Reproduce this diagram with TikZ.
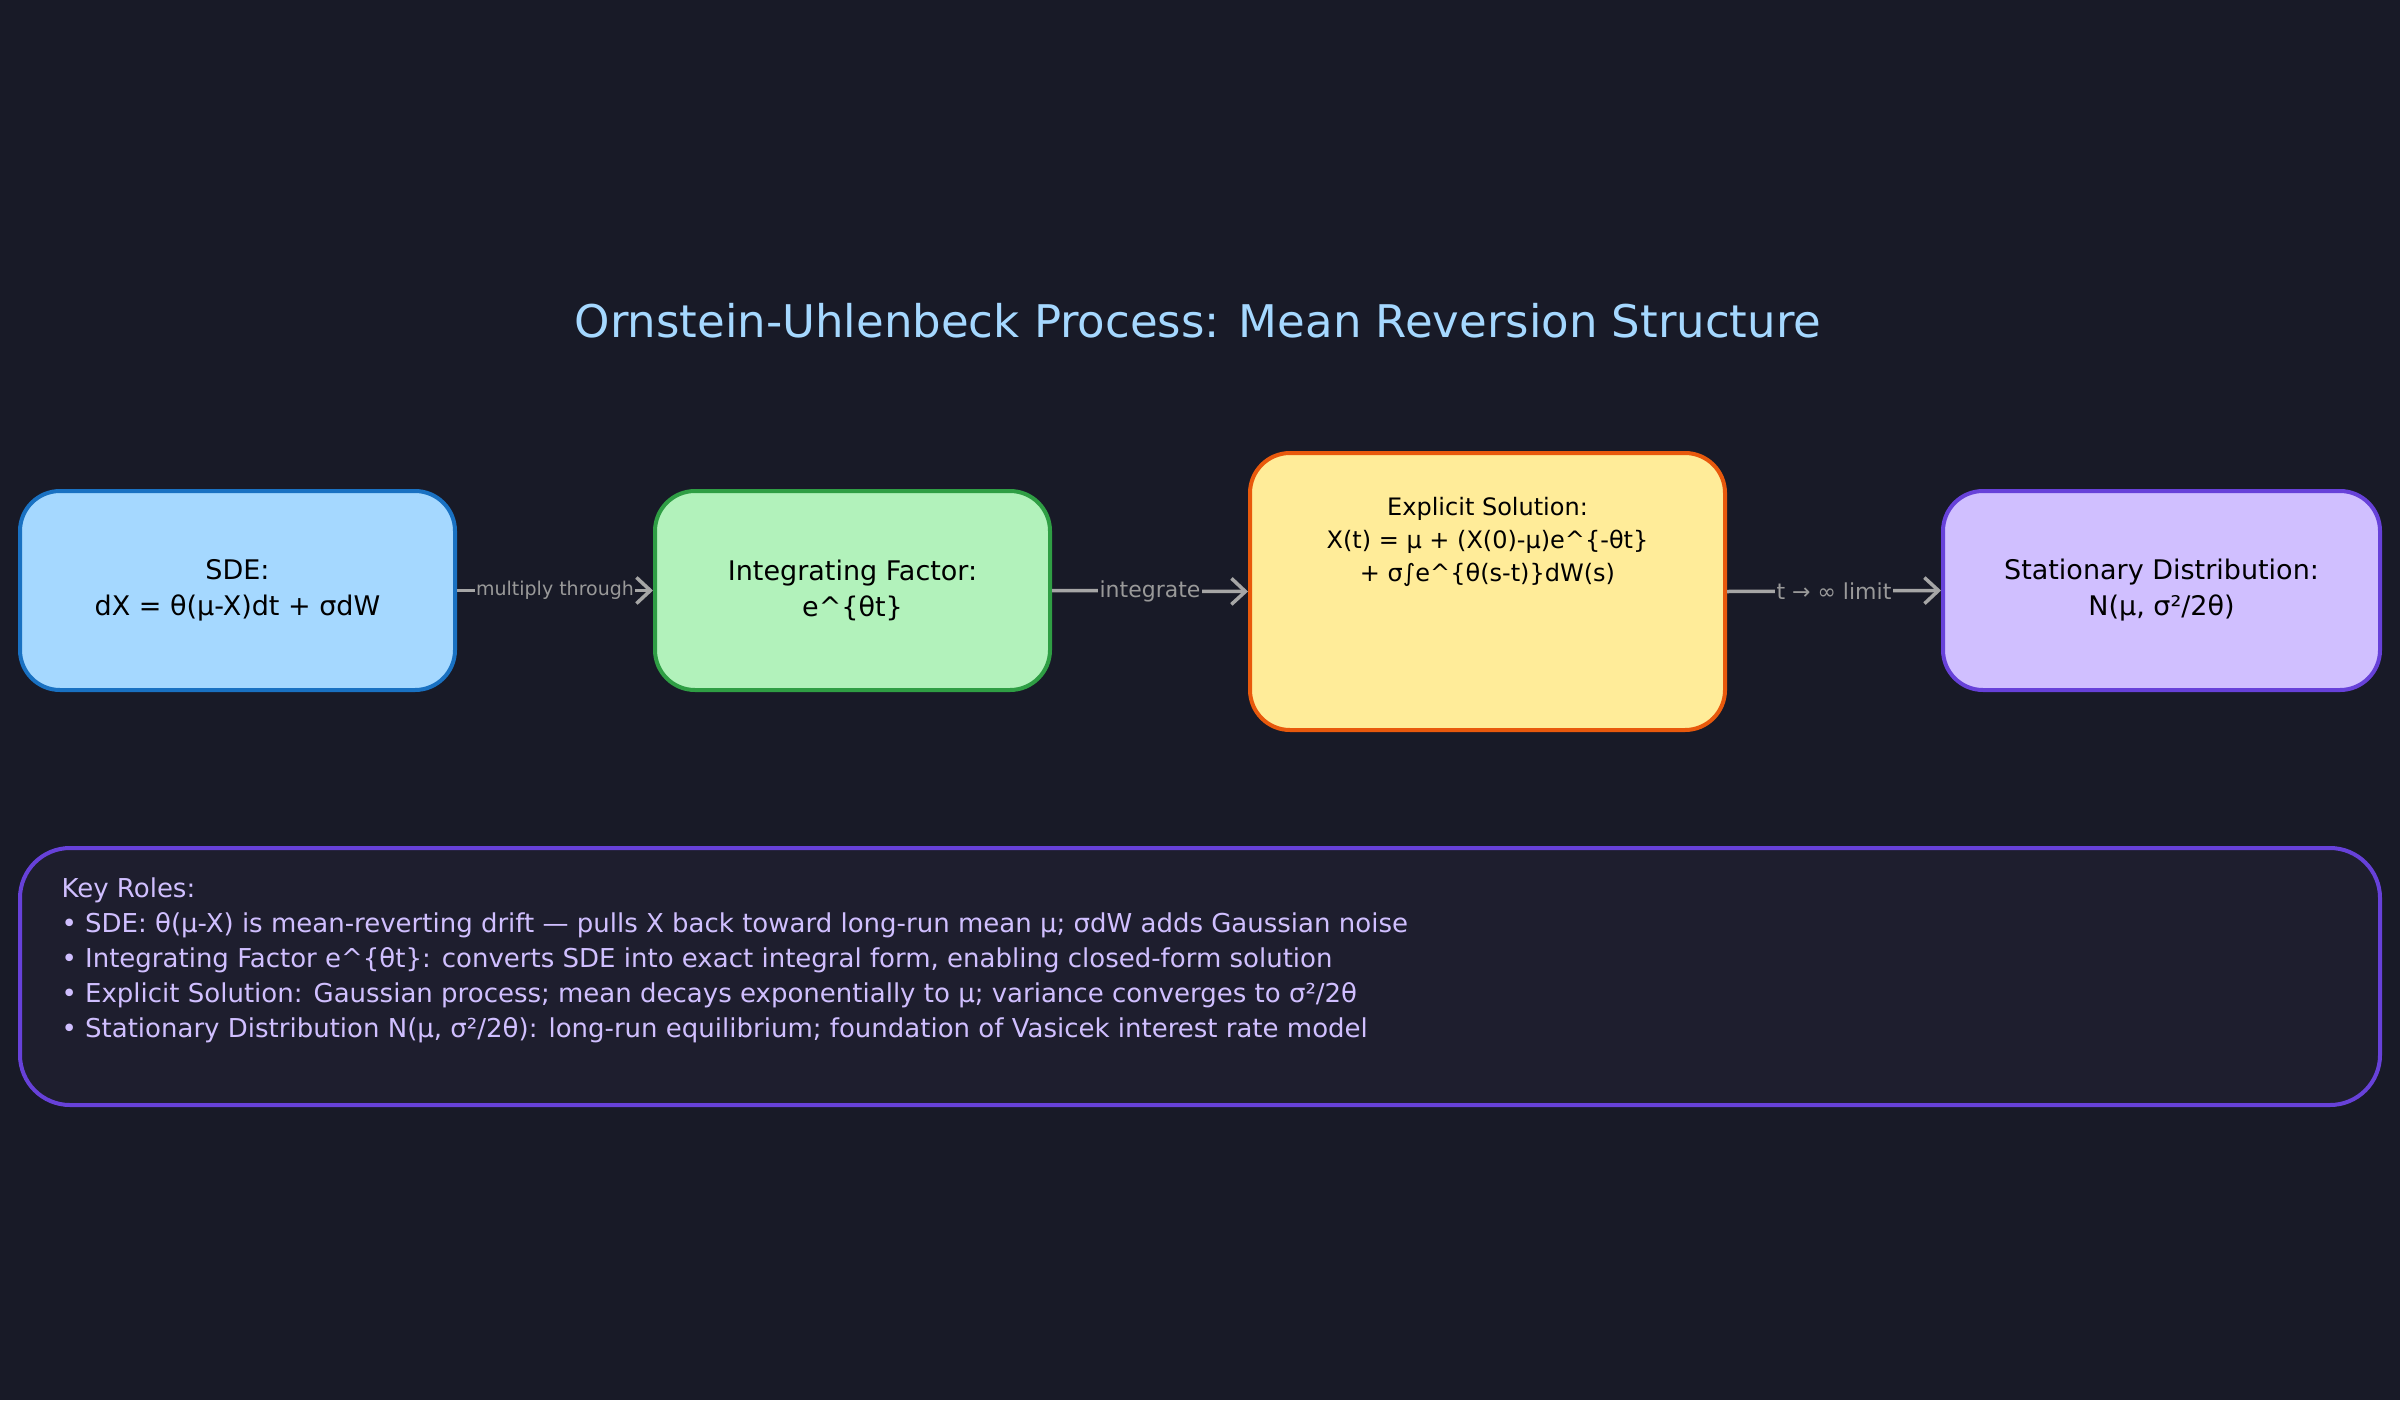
\documentclass[tikz,border=0pt]{standalone}
\usepackage{fontspec}
\setmainfont{DejaVu Sans}
\usetikzlibrary{arrows.meta}
\definecolor{bg}{HTML}{181A27}
\definecolor{panel}{HTML}{1E1E2E}
\begin{document}
\begin{tikzpicture}[x=1pt,y=-1pt,
  box/.style={draw, line width=4pt, rounded corners=40pt, align=center, text=black, font=\fontsize{27}{36}\selectfont, inner sep=0pt},
  conn/.style={draw=gray!70!white, line width=3.5pt, -{Straight Barb[length=14pt,width=26pt,line width=3.5pt]}},
  lab/.style={fill=bg, text=gray!80!white, font=\fontsize{22}{26}\selectfont, inner sep=2pt}]
\fill[bg] (0,0) rectangle (2400,1400);
\useasboundingbox (0,0) rectangle (2400,1400);
\node[text={rgb,255:red,165;green,216;blue,255}, font=\fontsize{45}{54}\selectfont] (title) at (1198,321) {Ornstein-Uhlenbeck Process: Mean Reversion Structure};
\node[box, draw={rgb,255:red,25;green,113;blue,194}, fill={rgb,255:red,165;green,216;blue,255}, minimum width=435pt, minimum height=199pt] (sde) at (237.5,590.5) {SDE:\\dX = θ(μ-X)dt + σdW};
\node[box, draw={rgb,255:red,47;green,158;blue,68}, fill={rgb,255:red,178;green,242;blue,187}, minimum width=395pt, minimum height=199pt] (if) at (852.5,590.5) {Integrating Factor:\\e\^{}\{θt\}};
\node[box, draw={rgb,255:red,232;green,89;blue,12}, fill={rgb,255:red,255;green,236;blue,153}, minimum width=475pt, minimum height=277pt] (es) at (1487.5,591.5) {};
\node[align=center, font=\fontsize{24}{33}\selectfont, text=black] (est) at (1487.5,542) {Explicit Solution:\\X(t) = μ + (X(0)-μ)e\^{}\{-θt\}\\+ σ∫e\^{}\{θ(s-t)\}dW(s)};
\node[box, draw={rgb,255:red,103;green,65;blue,217}, fill={rgb,255:red,208;green,191;blue,255}, minimum width=437pt, minimum height=199pt] (sd) at (2161.5,590.5) {Stationary Distribution:\\N(μ, σ²/2θ)};
\draw[conn] (sde.east) -- node[lab, font=\fontsize{19}{22}\selectfont, inner sep=1pt]{multiply through} (if.west);
\draw[conn] (if.east) -- node[lab]{integrate} (es.west);
\draw[conn] (es.east) -- node[lab]{t → ∞ limit} (sd.west);
\node[draw={rgb,255:red,103;green,65;blue,217}, fill=panel, line width=4pt, rounded corners=50pt, minimum width=2360pt, minimum height=257pt] (roles) at (1200,976.5) {};
\node[anchor=north west, align=left, text={rgb,255:red,208;green,191;blue,255}, font=\fontsize{26}{35}\selectfont] (rolest) at (58,874) {Key Roles:\\
• SDE: θ(μ-X) is mean-reverting drift — pulls X back toward long-run mean μ; σdW adds Gaussian noise\\
• Integrating Factor e\^{}\{θt\}: converts SDE into exact integral form, enabling closed-form solution\\
• Explicit Solution: Gaussian process; mean decays exponentially to μ; variance converges to σ²/2θ\\
• Stationary Distribution N(μ, σ²/2θ): long-run equilibrium; foundation of Vasicek interest rate model};
\end{tikzpicture}
\end{document}
